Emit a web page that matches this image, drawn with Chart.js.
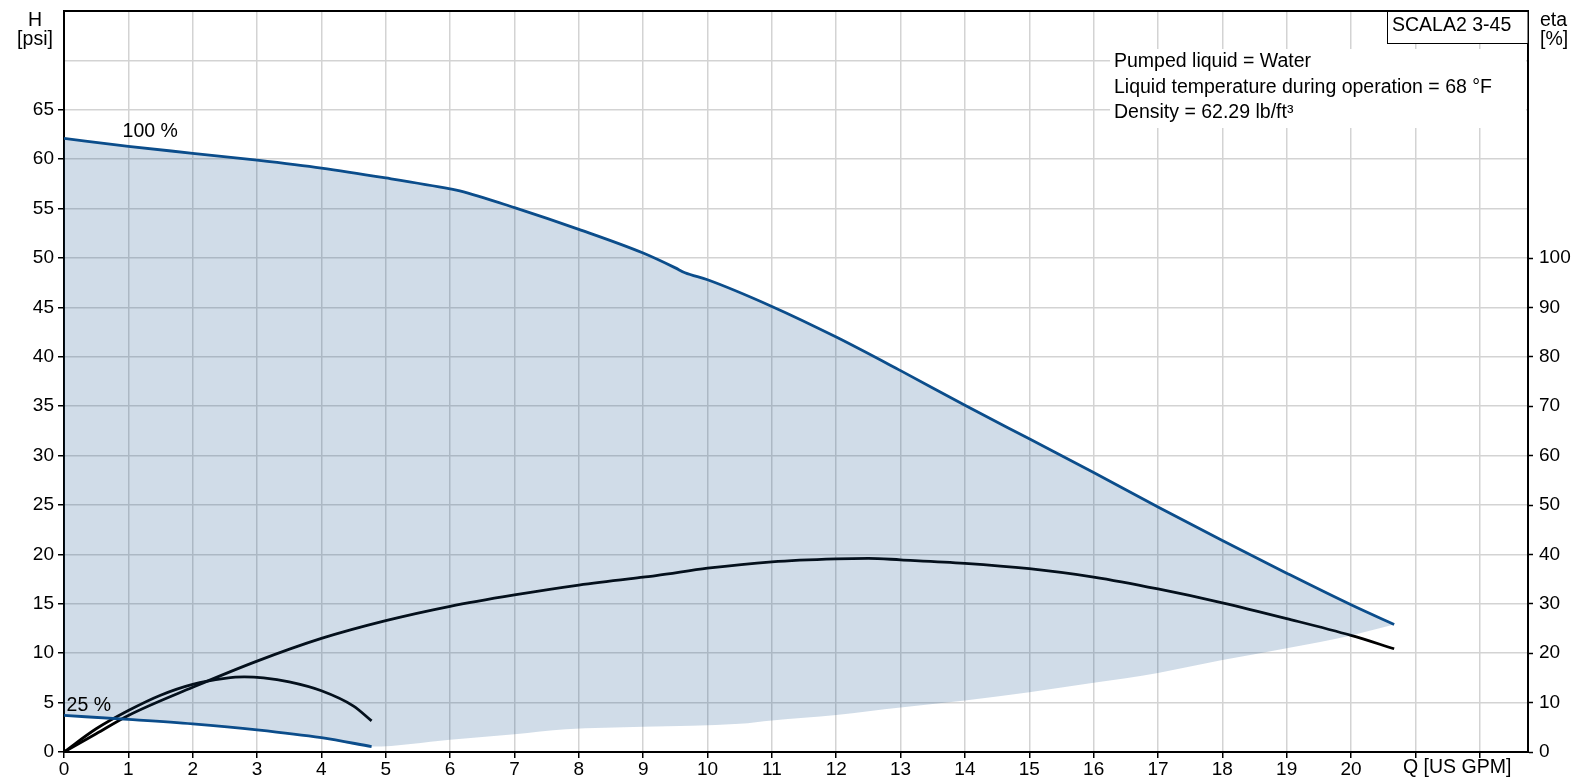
<!DOCTYPE html>
<html>
<head>
<meta charset="utf-8">
<script src="https://cdn.jsdelivr.net/npm/chart.js@4.4.0/dist/chart.umd.min.js"></script>
<style>
  body { margin: 0; background: #fff; }
  #wrap { width: 1576px; height: 780px; }
</style>
</head>
<body>
<div id="wrap"><canvas id="myChart"></canvas></div>
<script>
// head curve at 100 % speed [US GPM, psi]
const flow100 = [0, 1, 2, 3, 4, 5, 6, 6.15, 7, 8, 9, 9.5, 9.65, 10, 11, 12, 13, 14, 15, 16, 17, 18, 19, 20, 20.67];
const head100 = [62.1, 61.3, 60.6, 59.9, 59.1, 58.1, 57.0, 56.8, 55.1, 52.9, 50.5, 49.0, 48.5, 47.8, 45.1, 42.0, 38.6, 35.1, 31.7, 28.3, 24.8, 21.4, 18.1, 14.9, 12.9];

// head curve at 25 % speed
const flow25 = [0, 1, 2, 3, 4, 4.78];
const head25 = [3.7, 3.3, 2.85, 2.25, 1.45, 0.55];

// lower limit of the operating range
const flowMin = [4.78, 6, 7, 7.8, 9, 10.5, 11, 12, 13, 14, 15, 16, 17, 18, 19, 20, 20.67];
const headMin = [0.55, 1.25, 1.8, 2.3, 2.55, 2.85, 3.2, 3.75, 4.5, 5.2, 6.05, 7.0, 8.0, 9.3, 10.5, 11.8, 12.9];

// efficiency curves [%]
const flowEta100 = [0, 0.5, 1, 2, 3, 4, 5, 6, 7, 8, 9, 9.2, 10, 11, 12, 12.5, 13, 14, 15, 16, 17, 18, 19, 20, 20.67];
const eta100 = [0, 3.7, 7.4, 13.1, 18.4, 23.0, 26.6, 29.5, 31.8, 33.8, 35.4, 35.7, 37.2, 38.5, 39.1, 39.2, 38.9, 38.2, 37.1, 35.4, 33.0, 30.2, 27.0, 23.6, 20.9];
const flowEta25 = [0, 0.5, 1, 1.5, 2, 2.5, 2.8, 3.1, 3.5, 4, 4.5, 4.78];
const eta25 = [0, 4.7, 8.4, 11.5, 13.7, 14.9, 15.2, 15.0, 14.2, 12.4, 9.3, 6.3];

// ticks
const flowTicks = [0, 1, 2, 3, 4, 5, 6, 7, 8, 9, 10, 11, 12, 13, 14, 15, 16, 17, 18, 19, 20, 21, 22];
const flowLabels = ["0", "1", "2", "3", "4", "5", "6", "7", "8", "9", "10", "11", "12", "13", "14", "15", "16", "17", "18", "19", "20", "", ""];
const headTicks = [0, 5, 10, 15, 20, 25, 30, 35, 40, 45, 50, 55, 60, 65, 70];
const headLabels = ["0", "5", "10", "15", "20", "25", "30", "35", "40", "45", "50", "55", "60", "65", ""];
const etaTicks = [0, 10, 20, 30, 40, 50, 60, 70, 80, 90, 100];

const infoLines = ["Pumped liquid = Water", "Liquid temperature during operation = 68 °F", "Density = 62.29 lb/ft³"];
const pumpName = "SCALA2 3-45";

const blue = "#0b4d8b";
const gridColor = "#d3d3d3";
const fontFamily = '"Liberation Sans", Arial, sans-serif';
const textFont = "19.5px " + fontFamily;

Chart.defaults.font.family = fontFamily;
Chart.defaults.font.size = 19;
Chart.defaults.color = "#000";

function pts(xs, ys) {
    return xs.map((x, i) => ({ x: x, y: ys[i] }));
}

const lowerEdge = pts(flow25, head25).concat(pts(flowMin.slice(1), headMin.slice(1)));

function noPad(s) {
    s.paddingTop = 0;
    s.paddingBottom = 0;
    s.paddingLeft = 0;
    s.paddingRight = 0;
}

const extras = {
    id: "extras",
    afterDatasetsDraw(chart) {
        const ctx = chart.ctx;
        const area = chart.chartArea;
        const x = chart.scales.x;
        const y = chart.scales.y;
        ctx.save();

        // top frame line
        ctx.strokeStyle = "#000";
        ctx.lineWidth = 2;
        ctx.beginPath();
        ctx.moveTo(area.left - 1, area.top);
        ctx.lineTo(area.right + 1, area.top);
        ctx.stroke();

        // info text
        ctx.fillStyle = "#fff";
        ctx.fillRect(1110, 49, area.right - 2 - 1110, 79);
        ctx.fillStyle = "#000";
        ctx.font = textFont;
        ctx.textAlign = "left";
        ctx.textBaseline = "alphabetic";
        infoLines.forEach((t, i) => ctx.fillText(t, 1114, 67 + i * 25.5));

        // pump name box
        ctx.fillStyle = "#fff";
        ctx.fillRect(1387, area.top + 1, area.right - 1387, 32);
        ctx.strokeStyle = "#000";
        ctx.lineWidth = 1;
        ctx.strokeRect(1387.5, area.top, area.right - 1387.5, 32.5);
        ctx.fillStyle = "#000";
        ctx.fillText(pumpName, 1392, 31);

        // axis names
        ctx.textAlign = "center";
        ctx.fillText("H", 35, 26);
        ctx.fillText("[psi]", 35, 45);
        ctx.textAlign = "left";
        ctx.fillText("eta", 1540, 26);
        ctx.fillText("[%]", 1540, 45);
        ctx.fillText("Q [US GPM]", 1403, 773);

        // curve labels
        ctx.fillText("100 %", x.getPixelForValue(0.91), y.getPixelForValue(62.2));
        ctx.fillText("25 %", x.getPixelForValue(0.04), y.getPixelForValue(4.1));
        ctx.restore();
    }
};

const lineBase = { pointRadius: 0, cubicInterpolationMode: "monotone", borderWidth: 2.8 };

new Chart(document.getElementById("myChart"), {
    type: "line",
    data: {
        datasets: [
            Object.assign({}, lineBase, { label: "H 100 %", data: pts(flow100, head100), borderColor: blue, backgroundColor: "rgba(20, 80, 140, 0.2)", fill: 1, yAxisID: "y" }),
            Object.assign({}, lineBase, { label: "limit", data: lowerEdge, borderColor: "rgba(0,0,0,0)", borderWidth: 1, fill: false, yAxisID: "y" }),
            Object.assign({}, lineBase, { label: "H 25 %", data: pts(flow25, head25), borderColor: blue, fill: false, yAxisID: "y" }),
            Object.assign({}, lineBase, { label: "eta 100 %", data: pts(flowEta100, eta100), borderColor: "#000", fill: false, yAxisID: "y2" }),
            Object.assign({}, lineBase, { label: "eta 25 %", data: pts(flowEta25, eta25), borderColor: "#000", fill: false, yAxisID: "y2" })
        ]
    },
    options: {
        responsive: true,
        maintainAspectRatio: false,
        animation: false,
        layout: { padding: { top: 11, left: 0, right: 0, bottom: 0 } },
        plugins: { legend: { display: false }, tooltip: { enabled: false } },
        scales: {
            x: {
                type: "linear",
                min: 0,
                max: 22.75,
                afterBuildTicks: (s) => { s.ticks = flowTicks.map((v) => ({ value: v })); },
                afterFit: (s) => { s.height = 28; noPad(s); },
                ticks: { callback: (v, i) => flowLabels[i], autoSkip: false, maxRotation: 0, padding: 0 },
                grid: { color: gridColor, lineWidth: 1.5, tickColor: "#000", tickLength: 6, tickWidth: 1.5 },
                border: { color: "#000", width: 2 }
            },
            y: {
                type: "linear",
                position: "left",
                min: 0,
                max: 75,
                afterBuildTicks: (s) => { s.ticks = headTicks.map((v) => ({ value: v })); },
                afterFit: (s) => { s.width = 64; noPad(s); },
                ticks: { callback: (v, i) => headLabels[i], autoSkip: false, padding: 4 },
                grid: {
                    color: gridColor,
                    lineWidth: 1.5,
                    tickColor: (c) => (c.tick && c.tick.value > 65 ? "rgba(0,0,0,0)" : "#000"),
                    tickLength: 6,
                    tickWidth: 1.5
                },
                border: { color: "#000", width: 2 }
            },
            y2: {
                type: "linear",
                position: "right",
                min: 0,
                max: 150,
                afterBuildTicks: (s) => { s.ticks = etaTicks.map((v) => ({ value: v })); },
                afterFit: (s) => { s.width = 48; noPad(s); },
                ticks: { autoSkip: false, padding: 6 },
                grid: { drawOnChartArea: false, tickColor: "#000", tickLength: 5, tickWidth: 1.5 },
                border: { color: "#000", width: 2 }
            }
        }
    },
    plugins: [extras]
});
</script>
</body>
</html>
